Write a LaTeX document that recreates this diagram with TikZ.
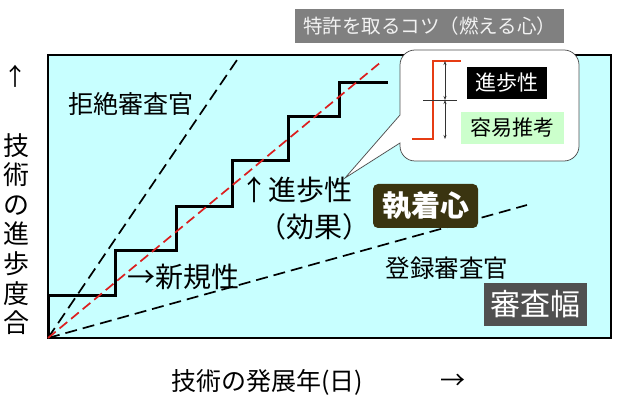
\documentclass[tikz,border=0pt]{standalone}
\usepackage{fontspec}
\setmainfont{Noto Sans CJK JP}
\usetikzlibrary{arrows.meta}
\definecolor{plotbg}{RGB}{200,255,255}
\definecolor{olivebox}{RGB}{58,52,16}
\definecolor{darkbox}{RGB}{80,80,80}
\definecolor{titlebox}{RGB}{128,128,128}
\definecolor{titletext}{RGB}{242,242,242}
\definecolor{calloutline}{RGB}{80,80,80}
\definecolor{stepred}{RGB}{230,60,20}
\definecolor{dashred}{RGB}{220,30,30}
\definecolor{greenbox}{RGB}{204,255,204}
\tikzset{
  fs/.style={font=\fontsize{#1}{#1}\selectfont},
  lbl/.style={inner sep=0pt, text=black},
  guideline/.style={line width=1.7pt, dash pattern=on 12pt off 6pt},
  redguide/.style={line width=1.7pt, dash pattern=on 10pt off 5pt, draw=dashred},
  stairs/.style={line width=3pt, line join=miter},
  dimline/.style={draw=black!80, line width=0.7pt, {Stealth[length=4pt,width=3pt]}-{Stealth[length=4pt,width=3pt]}},
}
\begin{document}
\begin{tikzpicture}[x=1pt,y=-1pt]
\useasboundingbox (0,0) rectangle (623,403);
% title
\node[fill=titlebox, text=titletext, fs=19.5, minimum width=269pt, minimum height=34pt, inner sep=0pt, anchor=north west] (title) at (295,9) {特許を取るコツ（燃える心）};
% plot frame
\draw[fill=plotbg, line width=2pt] (48,55) rectangle (611,338);
\coordinate (O) at (48,338);
% guide lines
\draw[guideline] (O) -- (237,60);
\draw[guideline] (O) -- (527,205);
% staircase
\draw[stairs] (48,338) -- (48,295) -- (115,295) -- (115,250) -- (176,250) -- (176,207) -- (232,207) -- (232,161) -- (288,161) -- (288,117) -- (339,117) -- (339,83) -- (388,83);
\draw[redguide] (O) -- (381,62);
% axis labels
\node[lbl, fs=24] (yarrow) at (16,76) {↑};
\node[lbl, align=center, font=\fontsize{26}{29.6}\selectfont, anchor=north] (ylabel) at (16,133) {技\\術\\の\\進\\歩\\度\\合};
\node[lbl, fs=25, anchor=west] (xlabel) at (171,382) {技術の発展年(日)};
\node[lbl, fs=25] (xarrow) at (453,382) {→};
% labels
\node[lbl, fs=25] (kyozetsu) at (131,104) {拒絶審査官};
\node[lbl, fs=24.5] (toroku) at (447,268) {登録審査官};
\node[lbl, fs=28, anchor=west] (shinki) at (127,277) {→新規性};
\node[lbl, fs=28, anchor=west] (shinpo) at (240,190) {↑進歩性};
\node[lbl, fs=28, anchor=west] (koka) at (258,227) {（効果）};
\node[fill=olivebox, text=white, rounded corners=5pt, font={\fontsize{29}{29}\selectfont\bfseries}, minimum width=105pt, minimum height=44pt, inner sep=0pt] (shuchaku) at (425.5,206) {執着心};
\node[fill=darkbox, text=white, fs=30, minimum width=103pt, minimum height=43pt, inner sep=0pt] (haba) at (535.5,304.5) {審査幅};
% callout
\draw[draw=calloutline, fill=white, line width=0.75pt] (400,143) [rounded corners=15pt] -- (400,161) -- (579,161) -- (579,50) -- (400,50) [sharp corners] -- (400,115) -- (345,178) -- cycle;
\draw[draw=stepred, line width=1.6pt] (412,139) -- (433,139) -- (433,61) -- (461,61);
\coordinate (dtop) at (445,61);
\coordinate (dmid) at (445,100);
\coordinate (dbot) at (445,139);
\draw[dimline] (dtop) -- (dmid);
\draw[dimline] (dmid) -- (dbot);
\draw[draw=black!80, line width=0.7pt] (423,100) -- (457,100);
\node[fill=black, text=white, fs=21, minimum width=80pt, minimum height=32pt, inner sep=0pt] (boxshinpo) at (507,83) {進歩性};
\node[fill=greenbox, text=black, fs=21, minimum width=103pt, minimum height=32pt, inner sep=0pt] (boxyoi) at (512.5,128) {容易推考};
\end{tikzpicture}
\end{document}
